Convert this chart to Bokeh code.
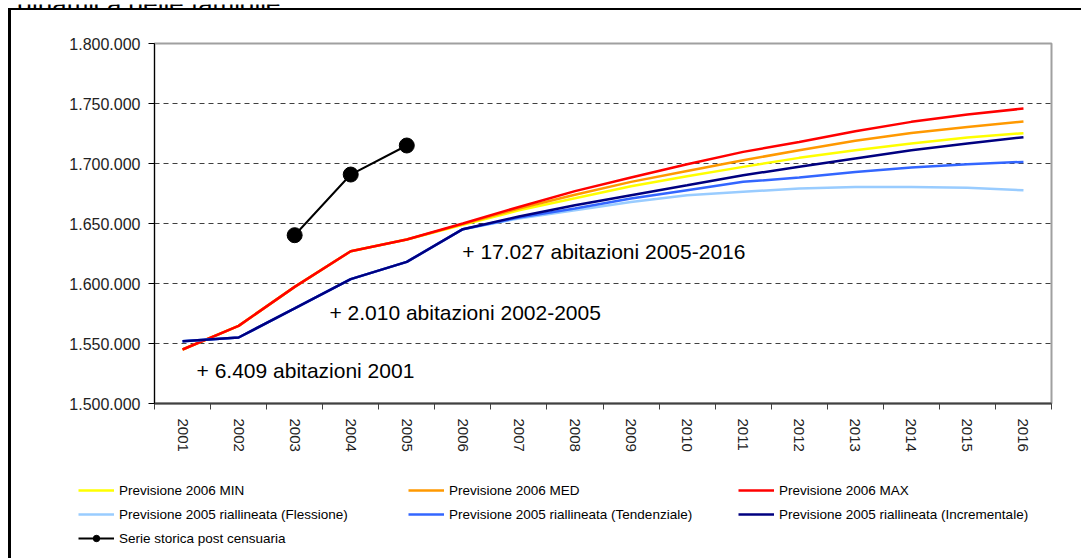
from bokeh.plotting import figure
from bokeh.layouts import column
from bokeh.models import Range1d, FixedTicker, Legend, LegendItem, Label
from bokeh.embed import file_html
from bokeh.resources import INLINE

# ---------------- data ----------------
title_text = "dinamica delle famiglie"

years = [2001, 2002, 2003, 2004, 2005, 2006, 2007, 2008, 2009, 2010, 2011, 2012, 2013, 2014, 2015, 2016]
year_labels = [str(y) for y in years]

prev2006_min = [1545000, 1564700, 1597200, 1626900, 1636700, 1649000, 1661000, 1671000,
                1681100, 1689400, 1697200, 1704700, 1711100, 1716700, 1721700, 1725250]
prev2006_med = [1545000, 1564700, 1597200, 1626900, 1636700, 1649500, 1662500, 1674000,
                1684700, 1693800, 1702700, 1711100, 1718900, 1725500, 1730500, 1735000]
prev2006_max = [1545000, 1564700, 1597200, 1626900, 1636700, 1650000, 1663800, 1677000,
                1688300, 1699400, 1709700, 1718000, 1726900, 1734700, 1740800, 1745800]
prev2005_fless = [1551900, 1555000, 1579200, 1603600, 1618000, 1645250, 1654200, 1661100,
                  1668000, 1673600, 1676400, 1679200, 1680500, 1680500, 1679700, 1677750]
prev2005_tend = [1551900, 1555000, 1579200, 1603600, 1618000, 1645250, 1655000, 1662500,
                 1670800, 1677750, 1684700, 1688300, 1693000, 1696700, 1699400, 1701350]
prev2005_incr = [1551900, 1555000, 1579200, 1603600, 1618000, 1645250, 1655800, 1665250,
                 1673600, 1681900, 1690250, 1697200, 1704200, 1711100, 1716700, 1721900]

hist_years = [2003, 2004, 2005]
hist_values = [1640250, 1690800, 1715000]

series_names = ["Previsione 2006 MIN", "Previsione 2006 MED", "Previsione 2006 MAX",
                "Previsione 2005 riallineata (Flessione)",
                "Previsione 2005 riallineata (Tendenziale)",
                "Previsione 2005 riallineata (Incrementale)"]
series_colors = ["#FFFF00", "#FF9900", "#FF0000", "#99CCFF", "#3366FF", "#000080"]
series_values = [prev2006_min, prev2006_med, prev2006_max,
                 prev2005_fless, prev2005_tend, prev2005_incr]
hist_name = "Serie storica post censuaria"

y_ticks = [1500000, 1550000, 1600000, 1650000, 1700000, 1750000, 1800000]
y_tick_labels = ["1.500.000", "1.550.000", "1.600.000", "1.650.000",
                 "1.700.000", "1.750.000", "1.800.000"]

annotations = [
    ("+ 17.027 abitazioni 2005-2016", 2005.99, 1626900),
    ("+ 2.010 abitazioni 2002-2005", 2003.62, 1576100),
    ("+ 6.409 abitazioni 2001", 2001.25, 1527750),
]

FONT = "Liberation Sans"


def no_align(fig):
    try:
        fig.frame_align = False
    except Exception:
        pass


# ---------------- title strip (cut off at the top, as in the reference) ----------------
pt = figure(width=1081, height=8, output_backend="svg", toolbar_location=None,
            x_range=Range1d(0, 1081), y_range=Range1d(0, 8),
            x_axis_type=None, y_axis_type=None, min_border=0,
            min_border_left=0, min_border_right=0, min_border_top=0, min_border_bottom=0)
pt.title.text = ""
pt.grid.visible = False
pt.outline_line_color = None
pt.add_layout(Label(x=17, y=9, text=title_text, text_baseline="alphabetic",
                    text_font=FONT, text_font_size="26px", text_color="black"))
no_align(pt)

# ---------------- main figure ----------------
p = figure(width=1070, height=455, output_backend="svg", toolbar_location=None,
           x_range=Range1d(2000.5, 2016.5), y_range=Range1d(1500000, 1800000),
           min_border_left=143, min_border_right=30, min_border_top=33, min_border_bottom=62)
p.title.text = ""
p.background_fill_color = "white"
p.border_fill_color = "white"
p.outline_line_color = "#a0a0a0"
p.outline_line_width = 2
no_align(p)

p.xgrid.visible = False
p.ygrid.ticker = FixedTicker(ticks=y_ticks[1:-1])
p.ygrid.grid_line_color = "#404040"
p.ygrid.grid_line_dash = "5 4"
p.ygrid.grid_line_width = 1

p.yaxis.ticker = FixedTicker(ticks=y_ticks)
p.yaxis.major_label_overrides = {v: s for v, s in zip(y_ticks, y_tick_labels)}
p.yaxis.major_label_text_font = FONT
p.yaxis.major_label_text_font_size = "16px"
p.yaxis.major_label_text_color = "#222222"
p.yaxis.major_tick_out = 6
p.yaxis.major_tick_in = 0
p.yaxis.minor_tick_line_color = None
p.yaxis.axis_line_color = "black"
p.yaxis.major_tick_line_color = "black"
p.yaxis.major_label_standoff = 8

p.xaxis.ticker = FixedTicker(ticks=years, minor_ticks=[y - 0.5 for y in years] + [years[-1] + 0.5])
p.xaxis.major_label_overrides = {y: s for y, s in zip(years, year_labels)}
p.xaxis.major_label_orientation = "vertical"
p.xaxis.major_label_text_font = FONT
p.xaxis.major_label_text_font_size = "15px"
p.xaxis.major_label_text_color = "#222222"
p.xaxis.major_tick_line_color = None
p.xaxis.minor_tick_out = 6
p.xaxis.minor_tick_in = 0
p.xaxis.minor_tick_line_color = "#404040"
p.xaxis.axis_line_color = "#404040"
p.xaxis.axis_line_width = 2
p.xaxis.major_label_standoff = 9

for name, vals, col in zip(series_names, series_values, series_colors):
    p.line(years, vals, line_color=col, line_width=2.5)
p.line(hist_years, hist_values, line_color="black", line_width=2)
p.scatter(hist_years, hist_values, size=15, fill_color="black", line_color="black")

for txt, x, y in annotations:
    p.add_layout(Label(x=x, y=y, text=txt, text_baseline="middle", text_align="left",
                       text_font=FONT, text_font_size="21px", text_color="black"))

# ---------------- legend strip ----------------
# the same series are drawn here out of view only to feed the legend glyphs
pl = figure(width=1070, height=93, output_backend="svg", toolbar_location=None,
            x_range=Range1d(0, 1), y_range=Range1d(0, 1),
            x_axis_type=None, y_axis_type=None, min_border=0,
            min_border_left=0, min_border_right=0, min_border_top=0, min_border_bottom=0)
pl.title.text = ""
pl.grid.visible = False
pl.outline_line_color = None
pl.background_fill_color = "white"
pl.border_fill_color = "white"
no_align(pl)

items = []
for name, vals, col in zip(series_names, series_values, series_colors):
    r = pl.line(years, vals, line_color=col, line_width=2.5)
    items.append(LegendItem(label=name, renderers=[r]))
rl = pl.line(hist_years, hist_values, line_color="black", line_width=2)
rs = pl.scatter(hist_years, hist_values, size=15, fill_color="black", line_color="black")
items.append(LegendItem(label=hist_name, renderers=[rl, rs]))

legend = Legend(items=items, orientation="horizontal", ncols=3, location=(67, 10),
                border_line_color=None, background_fill_alpha=0, padding=0, margin=0,
                spacing=4, glyph_width=36, glyph_height=16, label_height=20,
                label_standoff=5, label_width=285,
                label_text_font=FONT, label_text_font_size="13.5px", label_text_color="black")
pl.add_layout(legend)

box = column(p, pl, spacing=0, margin=(0, 0, 0, 8),
             styles={"border-left": "3px solid black", "border-top": "2px solid black"})
layout = column(pt, box, spacing=0)

open("out.html", "w").write(file_html(layout, INLINE))
